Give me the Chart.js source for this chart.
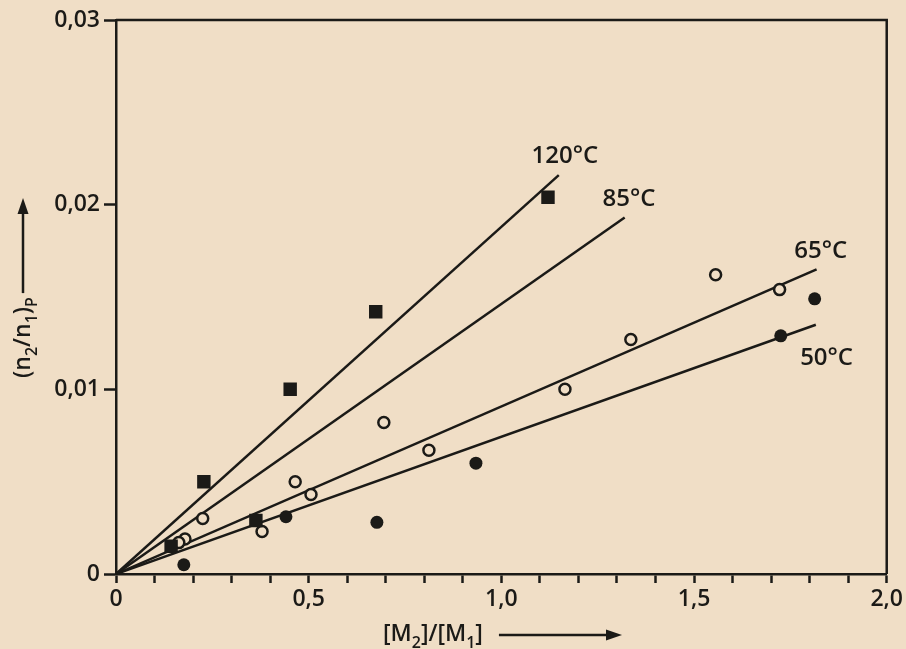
<!DOCTYPE html>
<html>
<head>
<meta charset="utf-8">
<script src="https://cdn.jsdelivr.net/npm/chart.js@4.4.1/dist/chart.umd.min.js"></script>
<style>
  html, body { margin: 0; padding: 0; background: #f0dec6; }
  #chart { display: block; }
</style>
</head>
<body>
<canvas id="chart" width="906" height="649"></canvas>
<script>
// values
const squaresX = [1.121, 0.674, 0.452, 0.228, 0.143, 0.363];
const squaresY = [0.0204, 0.0142, 0.0100, 0.0050, 0.0015, 0.0029];

const openX = [1.556, 1.722, 1.336, 1.165, 0.812, 0.695, 0.506, 0.465, 0.379, 0.225, 0.179, 0.163];
const openY = [0.0162, 0.0154, 0.0127, 0.0100, 0.0067, 0.0082, 0.0043, 0.0050, 0.0023, 0.0030, 0.0019, 0.0017];

const filledX = [1.813, 1.725, 0.934, 0.677, 0.441, 0.176];
const filledY = [0.0149, 0.0129, 0.0060, 0.0028, 0.0031, 0.0005];

// straight fits through the origin, one end point each
const lineNames = ['120°C', '85°C', '65°C', '50°C'];
const lineEndX = [1.149, 1.320, 1.818, 1.816];
const lineEndY = [0.0216, 0.0193, 0.0165, 0.0135];
const labelX = [1.165, 1.331, 1.829, 1.844];
const labelY = [0.0226, 0.0203, 0.0175, 0.0117];

const xTicks = [0, 0.5, 1.0, 1.5, 2.0];
const yTicks = [0, 0.01, 0.02, 0.03];

const ink = '#1b1a17';
const paper = '#f0dec6';
const font = "'Open Sans', 'DejaVu Sans', sans-serif";

const toPoints = (xs, ys) => xs.map((x, i) => ({ x: x, y: ys[i] }));

const datasets = [
    {
        label: 'squares',
        data: toPoints(squaresX, squaresY),
        showLine: false,
        pointStyle: 'rect',
        pointRadius: 9.5,
        backgroundColor: ink,
        borderColor: ink,
        borderWidth: 0
    },
    {
        label: 'filled',
        data: toPoints(filledX, filledY),
        showLine: false,
        pointStyle: 'circle',
        pointRadius: 6.5,
        backgroundColor: ink,
        borderColor: ink,
        borderWidth: 0
    },
    {
        label: 'open',
        data: toPoints(openX, openY),
        showLine: false,
        pointStyle: 'circle',
        pointRadius: 5.5,
        backgroundColor: paper,
        borderColor: ink,
        borderWidth: 2.5
    }
];

lineNames.forEach((name, i) => {
    datasets.push({
        label: name,
        data: [{ x: 0, y: 0 }, { x: lineEndX[i], y: lineEndY[i] }],
        showLine: true,
        pointRadius: 0,
        borderColor: ink,
        borderWidth: 2.5,
        fill: false
    });
});

function richText(ctx, parts, x, y, size) {
    // parts: [text, isSub]
    let cx = x;
    parts.forEach(p => {
        const sub = p[1];
        ctx.font = '600 ' + (sub ? Math.round(size * 0.7) : size) + 'px ' + font;
        ctx.fillText(p[0], cx, sub ? y + size * 0.3 : y);
        cx += ctx.measureText(p[0]).width;
    });
    return cx;
}

function arrow(ctx, x1, y1, x2, y2) {
    const ang = Math.atan2(y2 - y1, x2 - x1);
    const head = 16, half = 5.5;
    ctx.beginPath();
    ctx.moveTo(x1, y1);
    ctx.lineTo(x2 - head * Math.cos(ang), y2 - head * Math.sin(ang));
    ctx.lineWidth = 2.5;
    ctx.strokeStyle = ink;
    ctx.stroke();
    ctx.beginPath();
    ctx.moveTo(x2, y2);
    ctx.lineTo(x2 - head * Math.cos(ang) + half * Math.sin(ang), y2 - head * Math.sin(ang) - half * Math.cos(ang));
    ctx.lineTo(x2 - head * Math.cos(ang) - half * Math.sin(ang), y2 - head * Math.sin(ang) + half * Math.cos(ang));
    ctx.closePath();
    ctx.fillStyle = ink;
    ctx.fill();
}

const decorations = {
    id: 'decorations',
    beforeDraw(chart) {
        const ctx = chart.ctx;
        ctx.save();
        ctx.fillStyle = paper;
        ctx.fillRect(0, 0, chart.width, chart.height);
        ctx.restore();
    },
    afterDraw(chart) {
        const ctx = chart.ctx;
        const a = chart.chartArea;
        const xs = chart.scales.x, ys = chart.scales.y;
        ctx.save();

        // top and right frame
        ctx.strokeStyle = ink;
        ctx.lineWidth = 2.5;
        ctx.beginPath();
        ctx.moveTo(a.left, a.top);
        ctx.lineTo(a.right, a.top);
        ctx.lineTo(a.right, a.bottom);
        ctx.stroke();

        // temperature labels
        ctx.fillStyle = ink;
        ctx.font = '600 24px ' + font;
        ctx.textAlign = 'center';
        ctx.textBaseline = 'middle';
        lineNames.forEach((name, i) => {
            ctx.fillText(name, xs.getPixelForValue(labelX[i]), ys.getPixelForValue(labelY[i]));
        });

        // x axis title
        ctx.textAlign = 'left';
        ctx.textBaseline = 'alphabetic';
        const end = richText(ctx, [['[M', false], ['2', true], [']/[M', false], ['1', true], [']', false]], 383, 641, 23);
        arrow(ctx, end + 16, 635, 622, 635);

        // y axis title, rotated
        ctx.translate(30, 378);
        ctx.rotate(-Math.PI / 2);
        const yEnd = richText(ctx, [['(n', false], ['2', true], ['/n', false], ['1', true], [')', false], ['P', true]], 0, 0, 23);
        arrow(ctx, yEnd + 4, -7, 180, -7);

        ctx.restore();
    }
};

new Chart(document.getElementById('chart'), {
    type: 'scatter',
    data: { datasets: datasets },
    plugins: [decorations],
    options: {
        responsive: false,
        animation: false,
        events: [],
        layout: { padding: { top: 20, right: 19, left: 0, bottom: 0 } },
        plugins: {
            legend: { display: false },
            tooltip: { enabled: false }
        },
        scales: {
            x: {
                type: 'linear',
                min: 0,
                max: 2.0,
                afterFit: s => { s.height = 75; },
                ticks: {
                    stepSize: 0.1,
                    autoSkip: false,
                    maxRotation: 0,
                    padding: 3,
                    color: ink,
                    font: { family: font, size: 23, weight: '600' },
                    callback: v => {
                        const hit = xTicks.find(t => Math.abs(t - v) < 1e-6);
                        if (hit === undefined) return '';
                        return hit === 0 ? '0' : hit.toFixed(1).replace('.', ',');
                    }
                },
                grid: {
                    drawOnChartArea: false,
                    drawTicks: true,
                    tickLength: 9,
                    tickColor: ink,
                    tickWidth: 2.5
                },
                border: { display: true, color: ink, width: 2.5 }
            },
            y: {
                type: 'linear',
                min: 0,
                max: 0.03,
                afterFit: s => { s.width = 116; },
                afterBuildTicks: s => { s.ticks = yTicks.map(v => ({ value: v })); },
                ticks: {
                    padding: 4,
                    color: ink,
                    font: { family: font, size: 23, weight: '600' },
                    callback: v => v === 0 ? '0' : v.toFixed(2).replace('.', ',')
                },
                grid: {
                    drawOnChartArea: false,
                    drawTicks: true,
                    tickLength: 12,
                    tickColor: ink,
                    tickWidth: 2.5
                },
                border: { display: true, color: ink, width: 2.5 }
            }
        }
    }
});
</script>
</body>
</html>
